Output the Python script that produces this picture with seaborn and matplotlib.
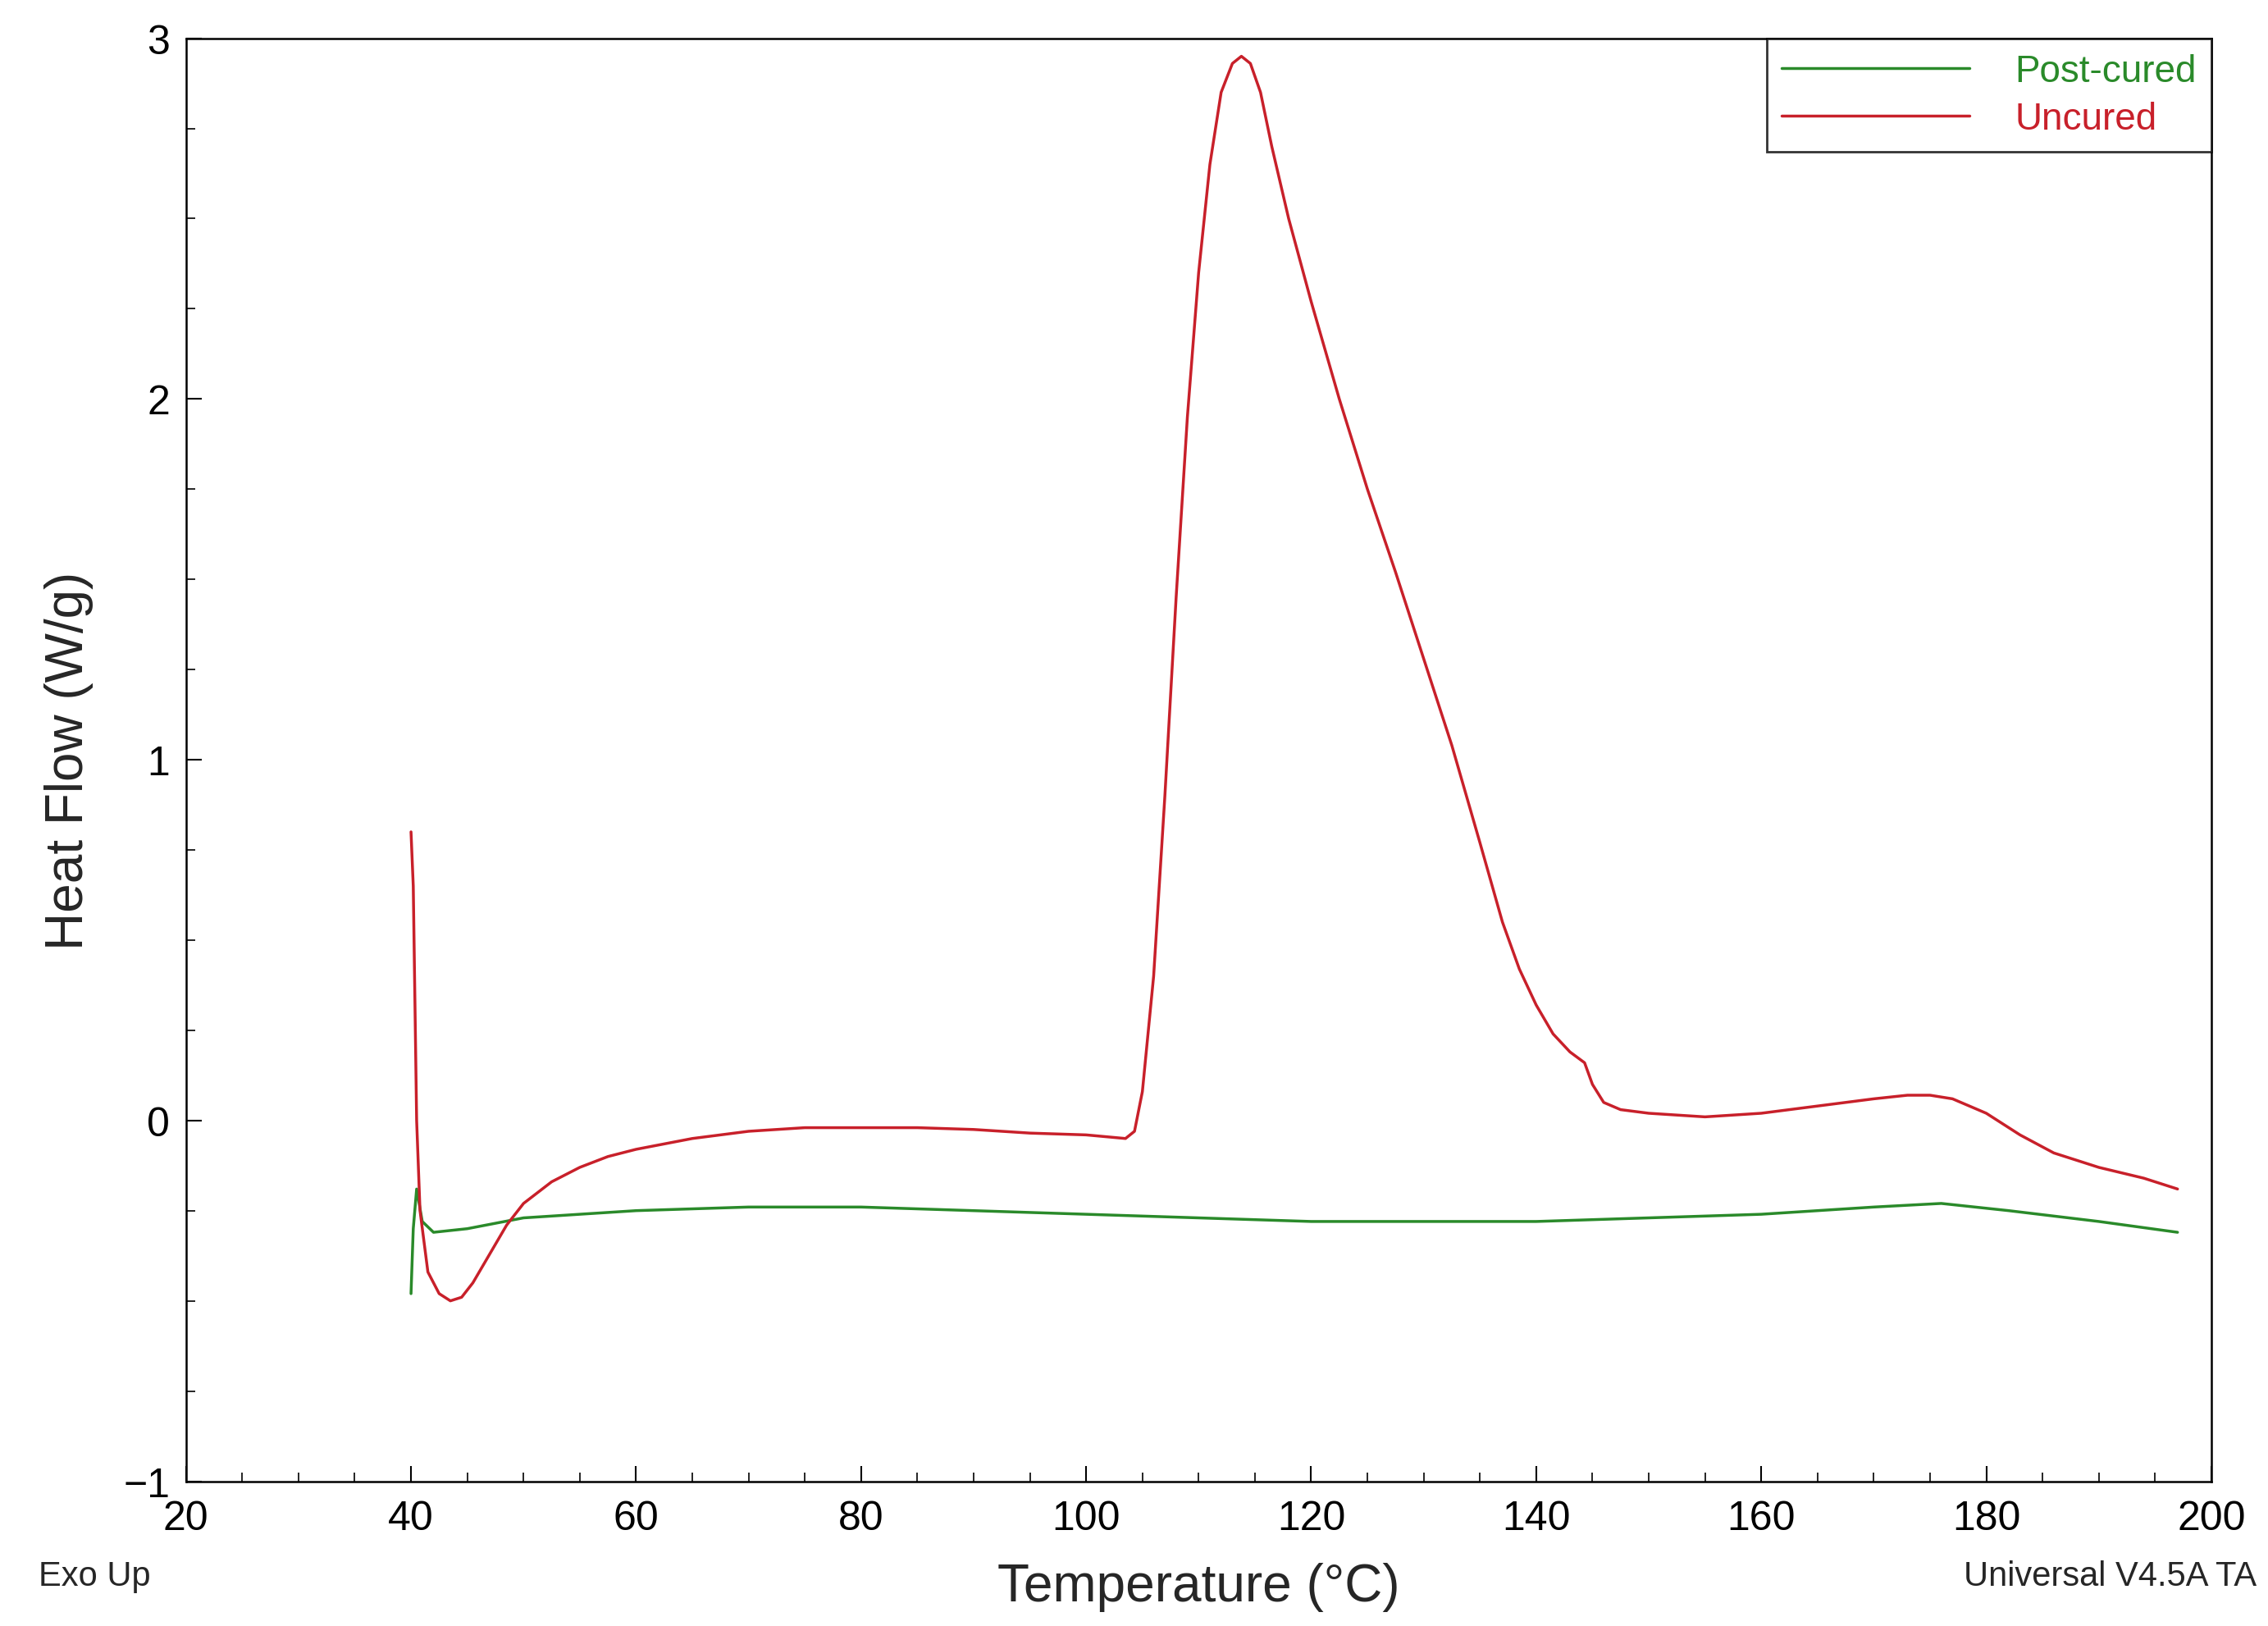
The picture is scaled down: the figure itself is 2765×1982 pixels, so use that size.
import matplotlib
matplotlib.use("Agg")
import matplotlib.pyplot as plt
import seaborn as sns
import pandas as pd
from matplotlib.ticker import MultipleLocator

sns.set_theme(style="white")
plt.rcParams['font.family'] = ['Liberation Sans', 'DejaVu Sans']

unc_x = [40.0, 40.2, 40.5, 40.8, 41.5, 42.5, 43.5, 44.5, 45.5, 47, 48.5, 50, 52.5, 55, 57.5, 60, 65, 70, 75, 80, 85, 90, 95, 100, 103.5, 104.3, 105, 106, 107, 108, 109, 110, 111, 112, 113, 113.8, 114.6, 115.5, 116.5, 118, 120, 122.5, 125, 127.5, 130, 132.5, 135, 137, 138.5, 140, 141.5, 143, 144.3, 145, 146, 147.5, 150, 155, 160, 165, 170, 173, 175, 177, 180, 183, 186, 190, 194, 197]
unc_y = [0.8, 0.65, 0.0, -0.25, -0.42, -0.48, -0.5, -0.49, -0.45, -0.37, -0.29, -0.23, -0.17, -0.13, -0.1, -0.08, -0.05, -0.03, -0.02, -0.02, -0.02, -0.025, -0.035, -0.04, -0.05, -0.03, 0.08, 0.4, 0.9, 1.45, 1.95, 2.35, 2.65, 2.85, 2.93, 2.95, 2.93, 2.85, 2.7, 2.5, 2.27, 2.0, 1.75, 1.52, 1.28, 1.04, 0.77, 0.55, 0.42, 0.32, 0.24, 0.19, 0.16, 0.1, 0.05, 0.03, 0.02, 0.01, 0.02, 0.04, 0.06, 0.07, 0.07, 0.06, 0.02, -0.04, -0.09, -0.13, -0.16, -0.19]
post_x = [40, 40.2, 40.5, 41, 42, 45, 50, 55, 60, 70, 80, 90, 100, 110, 120, 140, 150, 160, 170, 176, 182, 190, 197]
post_y = [-0.48, -0.3, -0.19, -0.28, -0.31, -0.3, -0.27, -0.26, -0.25, -0.24, -0.24, -0.25, -0.26, -0.27, -0.28, -0.28, -0.27, -0.26, -0.24, -0.23, -0.25, -0.28, -0.31]

green = "#2a8a2a"
red = "#c8202a"

fig = plt.figure(figsize=(27.65, 19.83), dpi=100)
ax = fig.add_axes([0.082, 0.089, 0.893, 0.887])
sns.lineplot(x=post_x, y=post_y, ax=ax, color=green, lw=2.5, label="Post-cured", sort=False)
sns.lineplot(x=unc_x, y=unc_y, ax=ax, color=red, lw=2.5, label="Uncured", sort=False)

ax.set_xlim(20, 200)
ax.set_ylim(-1, 3)
ax.xaxis.set_major_locator(MultipleLocator(20))
ax.xaxis.set_minor_locator(MultipleLocator(5))
ax.yaxis.set_major_locator(MultipleLocator(1))
ax.yaxis.set_minor_locator(MultipleLocator(0.25))
ax.tick_params(which='both', direction='in', labelsize=36, colors='black', bottom=True, left=True)
ax.tick_params(which='major', length=14, width=1.5)
ax.tick_params(axis='x', which='major', pad=16)
ax.tick_params(axis='y', which='major', pad=14)
ax.tick_params(which='minor', length=8, width=1.2)
ax.set_yticks([-1, 0, 1, 2, 3])
ax.set_yticklabels(["\u22121", "0", "1", "2", "3"])
for s in ax.spines.values():
    s.set_color('black'); s.set_linewidth(1.8)
ax.set_xlabel("Temperature (°C)", fontsize=46, labelpad=22)
ax.set_ylabel("Heat Flow (W/g)", fontsize=46, labelpad=26)

leg = ax.legend(loc='upper right', fontsize=33, frameon=True, fancybox=False,
                handlelength=5, borderaxespad=0, edgecolor='black',
                borderpad=0.4, labelspacing=0.3, handletextpad=1.2)
leg.get_frame().set_linewidth(2)
for t, c in zip(leg.get_texts(), [green, red]):
    t.set_color(c)

fig.text(0.017, 0.025, "Exo Up", fontsize=30)
fig.text(0.995, 0.025, "Universal V4.5A TA", fontsize=30, ha='right')
fig.savefig("out.png", dpi=100, facecolor='white')
